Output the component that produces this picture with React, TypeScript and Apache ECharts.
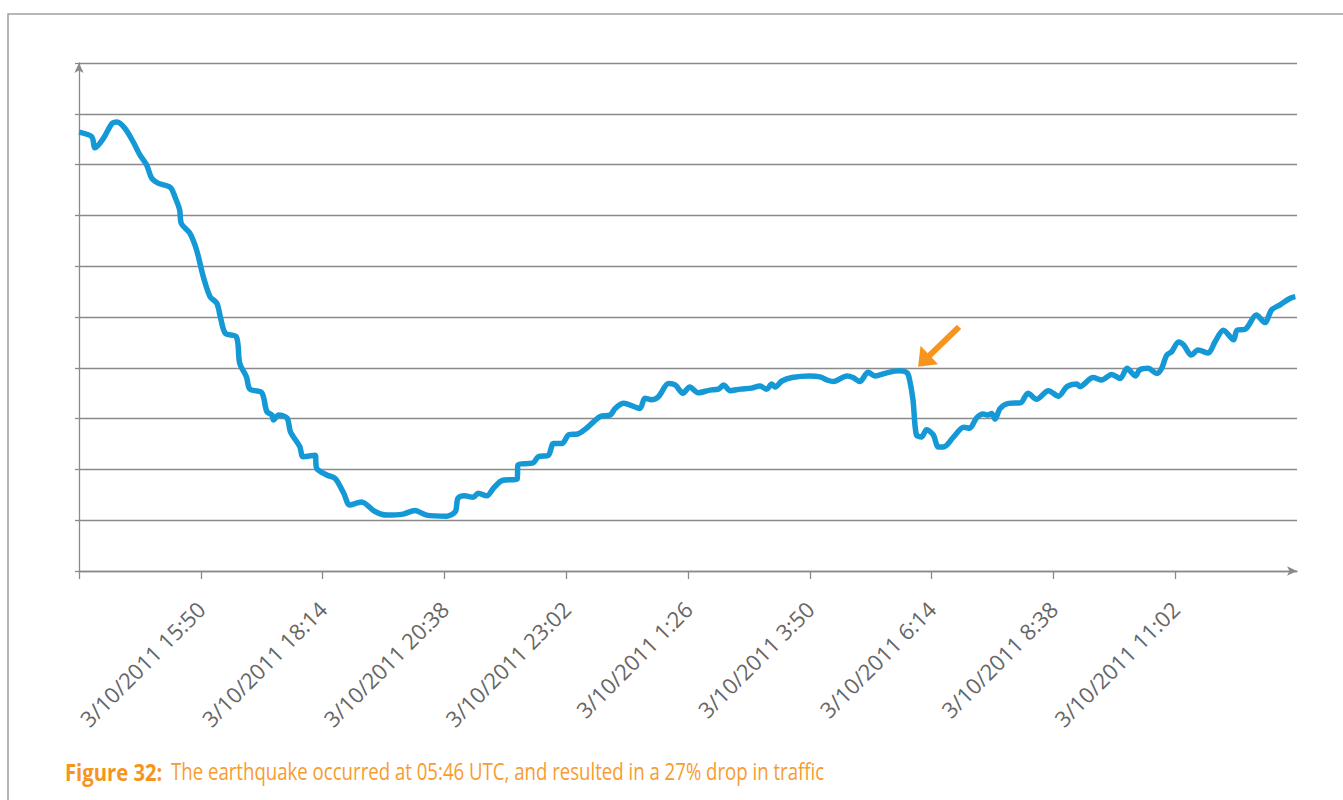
import React, { useEffect, useRef } from "react";
import * as echarts from "echarts";

// minutes since the start of the axis (axis spans 24 h, ticks every 144 min)
const TIME_MIN = [0, 15, 19, 29, 39, 45, 54, 64, 72, 80, 86, 94, 108, 114, 119, 121, 131, 139, 147, 155, 163, 167, 173, 186, 190, 198, 202, 216, 222, 228, 230, 236, 246, 250, 261, 265, 279, 281, 293, 303, 313, 320, 334, 350, 364, 383, 397, 411, 435, 445, 448, 456, 466, 472, 482, 490, 500, 518, 519, 537, 543, 555, 561, 571, 579, 590, 600, 616, 628, 634, 644, 663, 669, 677, 685, 697, 705, 714, 722, 732, 746, 756, 762, 770, 782, 795, 805, 813, 819, 823, 831, 843, 864, 876, 886, 892, 908, 915, 923, 933, 941, 955, 969, 979, 982, 986, 990, 996, 1002, 1010, 1016, 1022, 1034, 1046, 1053, 1061, 1069, 1075, 1079, 1083, 1089, 1099, 1113, 1122, 1132, 1146, 1158, 1168, 1180, 1183, 1199, 1209, 1221, 1231, 1239, 1249, 1254, 1264, 1274, 1280, 1286, 1292, 1300, 1306, 1315, 1323, 1335, 1343, 1353, 1365, 1369, 1379, 1392, 1402, 1410, 1420, 1432, 1438];
const TRAFFIC = [86.4, 85.5, 83.3, 85.2, 88.1, 88.4, 87.2, 84.5, 81.9, 79.9, 77.3, 76.3, 75.5, 73.4, 71.1, 68.4, 66.5, 63.2, 57.9, 54.0, 52.7, 50.1, 46.8, 46.1, 40.9, 38.2, 35.8, 35.1, 31.4, 30.7, 29.7, 30.7, 30.1, 27.4, 24.5, 22.5, 22.8, 20.2, 18.9, 18.2, 15.3, 13.0, 13.6, 11.7, 11.0, 11.2, 11.9, 11.0, 10.8, 11.7, 14.3, 14.8, 14.5, 15.3, 14.8, 16.3, 17.8, 18.1, 20.9, 21.3, 22.5, 22.8, 25.1, 25.1, 26.8, 27.0, 28.1, 30.4, 30.7, 32.0, 33.0, 32.0, 34.0, 33.7, 34.3, 36.9, 36.6, 35.0, 36.2, 35.1, 35.6, 35.8, 36.6, 35.5, 35.8, 36.0, 36.4, 35.8, 36.8, 36.2, 37.4, 38.1, 38.4, 38.2, 37.5, 37.3, 38.4, 38.1, 37.3, 39.1, 38.4, 39.0, 39.4, 39.0, 37.6, 33.7, 26.8, 26.4, 27.8, 26.8, 24.4, 24.4, 26.4, 28.3, 28.1, 30.1, 30.9, 30.7, 31.0, 29.9, 32.0, 33.0, 33.1, 35.0, 33.8, 35.5, 34.4, 36.3, 36.8, 36.3, 38.1, 37.6, 38.7, 37.9, 39.9, 38.4, 39.6, 39.9, 38.9, 39.9, 42.5, 43.2, 45.1, 44.5, 42.5, 43.5, 42.9, 45.1, 47.4, 45.5, 47.4, 47.6, 50.4, 48.9, 51.4, 52.4, 53.7, 54.0];

const TICK_VALUES = [0, 144, 288, 432, 576, 720, 864, 1008, 1152, 1296];
const LABEL_VALUES = [144, 288, 432, 576, 720, 864, 1008, 1152, 1296];
const TICK_LABELS = [
  "3/10/2011 15:50",
  "3/10/2011 18:14",
  "3/10/2011 20:38",
  "3/10/2011 23:02",
  "3/10/2011 1:26",
  "3/10/2011 3:50",
  "3/10/2011 6:14",
  "3/10/2011 8:38",
  "3/10/2011 11:02",
];

// the arrow annotation points at the moment of the earthquake drop
const ARROW_TARGET = [992, 40.2];

const CAPTION_BOLD = "Figure 32:";
const CAPTION_TEXT = "The earthquake occurred at 05:46 UTC, and resulted in a 27% drop in traffic";

export default function App() {
  const ref = useRef<HTMLDivElement>(null);
  useEffect(() => {
    if (!ref.current) return;
    const chart = echarts.init(ref.current, null, { renderer: "svg" });
    const axisColor = "#8a8a8a";
    const data = TIME_MIN.map((t, i) => [t, TRAFFIC[i]]);
    chart.setOption({
      animation: false,
      backgroundColor: "#ffffff",
      grid: { left: 79, right: 46, top: 63, bottom: 229, containLabel: false },
      xAxis: {
        type: "value",
        min: 0,
        max: 1440,
        interval: 144,
        axisLine: {
          show: true,
          lineStyle: { color: axisColor, width: 1.3 },
          symbol: ["none", "arrow"],
          symbolSize: [7, 10],
        },
        axisTick: {
          show: true,
          length: 8,
          customValues: TICK_VALUES,
          lineStyle: { color: axisColor, width: 1.3 },
        },
        axisLabel: {
          show: true,
          customValues: LABEL_VALUES,
          rotate: 45,
          margin: 34,
          color: "#666666",
          fontFamily: "Open Sans",
          fontSize: 22,
          formatter: (v: number) => TICK_LABELS[Math.round(v / 144) - 1] ?? "",
        },
        splitLine: { show: false },
      },
      yAxis: {
        type: "value",
        min: 0,
        max: 100,
        interval: 10,
        axisLine: {
          show: true,
          lineStyle: { color: axisColor, width: 1.3 },
          symbol: ["none", "arrow"],
          symbolSize: [7, 10],
        },
        axisTick: { show: true, length: 4, lineStyle: { color: axisColor, width: 1.3 } },
        axisLabel: { show: false },
        splitLine: { show: true, lineStyle: { color: "#8a8a8a", width: 1.3 } },
      },
      series: [
        {
          type: "line",
          data,
          smooth: 0.3,
          showSymbol: false,
          lineStyle: { color: "#1499d6", width: 5.5 },
        },
      ],
    });

    const tip = chart.convertToPixel({ gridIndex: 0 }, ARROW_TARGET) as number[];
    const orange = "#f7941d";
    chart.setOption({
      graphic: [
        {
          type: "rect",
          shape: { x: 8, y: 14, width: 1500, height: 1000 },
          style: { fill: "none", stroke: "#a0a0a0", lineWidth: 1.5 },
          silent: true,
          z: -1,
        },
        {
          type: "line",
          shape: { x1: tip[0] + 41, y1: tip[1] - 40, x2: tip[0] + 10, y2: tip[1] - 10 },
          style: { stroke: orange, lineWidth: 6 },
        },
        {
          type: "polygon",
          shape: {
            points: [
              [tip[0], tip[1]],
              [tip[0] + 2.5, tip[1] - 21],
              [tip[0] + 20, tip[1] - 2.5],
            ],
          },
          style: { fill: orange },
        },
        {
          type: "text",
          x: 65,
          y: 760,
          scaleX: 0.88,
          style: {
            text: CAPTION_BOLD,
            fill: orange,
            font: "bold 23px 'Open Sans'",
          },
        },
        {
          type: "text",
          x: 171,
          y: 760,
          scaleX: 0.81,
          style: {
            text: CAPTION_TEXT,
            fill: "#f89b30",
            font: "23px 'Open Sans'",
          },
        },
      ],
    });
    return () => chart.dispose();
  }, []);
  return (
    <div
      ref={ref}
      style={{ position: "fixed", left: 0, top: 0, width: 1343, height: 800, background: "#fff" }}
    />
  );
}
